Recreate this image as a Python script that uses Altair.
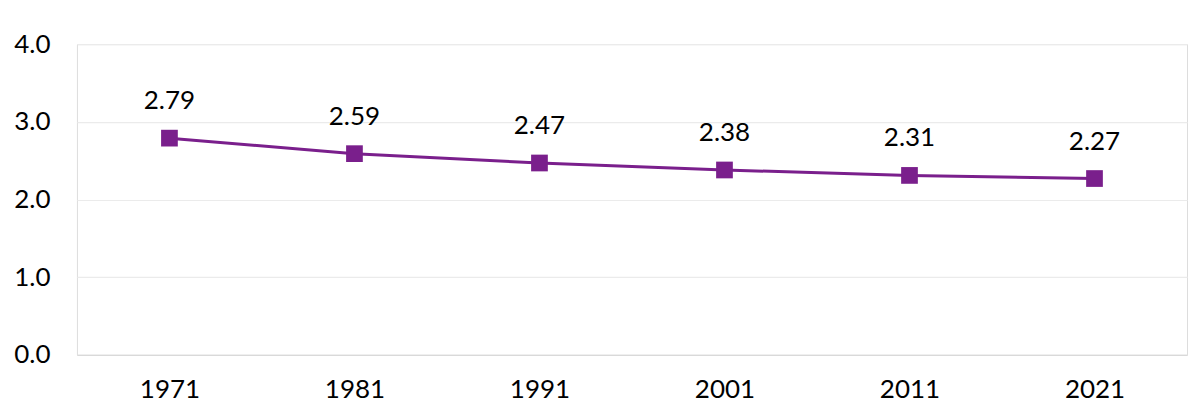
import altair as alt
import pandas as pd

years = ["1971", "1981", "1991", "2001", "2011", "2021"]
values = [2.79, 2.59, 2.47, 2.38, 2.31, 2.27]

df = pd.DataFrame({"year": years, "value": values})

purple = "#7a1f8c"
font = "Lato"
fs = 26

x = alt.X("year:N", sort=years, title=None,
          scale=alt.Scale(paddingInner=0, paddingOuter=0, align=0.5),
          axis=alt.Axis(labelAngle=0, labelFontSize=fs, labelColor="#000000",
                        labelFont=font, ticks=False, domain=True, domainColor="#d9d9d9",
                        domainWidth=1.5, labelPadding=22, grid=False))
y = alt.Y("value:Q", title=None,
          scale=alt.Scale(domain=[0, 4], nice=False),
          axis=alt.Axis(values=[0, 1, 2, 3, 4], format=".1f", labelFontSize=fs,
                        labelColor="#000000", labelFont=font, ticks=False, domain=False,
                        gridColor="#ebebeb", gridWidth=1.2, labelPadding=27))

base = alt.Chart(df).encode(x=x, y=y)

line = base.mark_line(color=purple, strokeWidth=3)
pts = base.mark_point(shape="square", size=280, filled=True, color=purple, opacity=1)
labels = base.mark_text(dy=-37, fontSize=fs, font=font, color="#000000").encode(
    text=alt.Text("value:Q", format=".2f"))

chart = (line + pts + labels).properties(
    width=1111, height=311,
    autosize=alt.AutoSizeParams(type="none"),
    padding={"left": 69, "top": 36, "right": 8, "bottom": 50},
).configure_view(stroke=None).configure(background="#ffffff")

chart.save("out.html", embed_options={"renderer": "svg", "actions": False})
